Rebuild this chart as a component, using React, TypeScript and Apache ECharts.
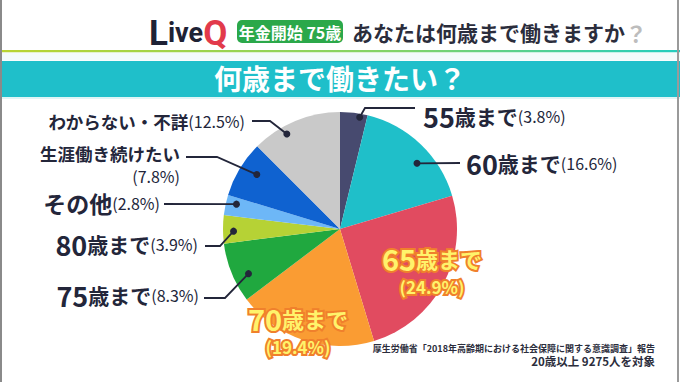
import React, { useEffect, useRef } from "react";
import * as echarts from "echarts";

// ---- data ----
const categories = [
  "55歳まで",
  "60歳まで",
  "65歳まで",
  "70歳まで",
  "75歳まで",
  "80歳まで",
  "その他",
  "生涯働き続けたい",
  "わからない・不詳",
];
const values = [3.8, 16.6, 24.9, 19.4, 8.3, 3.9, 2.8, 7.8, 12.5];
const colors = [
  "#474a6f",
  "#1fbfc9",
  "#e14b60",
  "#fa9c33",
  "#20a83f",
  "#b6d235",
  "#6db7f7",
  "#0f62d0",
  "#c9c9c9",
];
const chartTitle = "何歳まで働きたい？";
const headerTag = "年金開始 75歳";
const headerQuestion = "あなたは何歳まで働きますか";
const sourceLines = [
  "厚生労働省「2018年高齢期における社会保障に関する意識調査」報告",
  "20歳以上 9275人を対象",
];

// ---- layout (positions only) ----
const CX = 340;
const CY = 229;
const R = 117;
const FONT = '"Noto Sans CJK JP", "Noto Sans", sans-serif';
const DARK = "#23263a";
const sourceSizes = [9, 11.5];

type LabelLayout = {
  af?: number; // where the dot sits within the slice's angle span (0..1)
  rf?: number; // dot radius as fraction of R
  path?: number[][];
  x: number;
  ys: number[];
  align: "left" | "right" | "center";
  split?: boolean; // put percentage on its own line
  inside?: boolean;
};
const layouts: LabelLayout[] = [
  { af: 0.73, rf: 0.97, path: [[365, 108], [415, 108]], x: 423, ys: [116], align: "left" },
  { af: 0.6, rf: 0.865, path: [[460, 163]], x: 466, ys: [163], align: "left" },
  { inside: true, x: 432, ys: [258, 286], align: "center", split: true },
  { inside: true, x: 298, ys: [318, 346], align: "center", split: true },
  { af: 0.37, rf: 0.87, path: [[225, 298], [204, 298]], x: 199, ys: [295], align: "right" },
  { af: 0.43, rf: 0.91, path: [[220, 246], [205, 246]], x: 198, ys: [244], align: "right" },
  { af: 0.66, rf: 0.91, path: [[164, 204]], x: 160, ys: [203], align: "right" },
  { af: 0.58, rf: 0.85, path: [[217, 157], [186, 157]], x: 180, ys: [153, 176], align: "right", split: true },
  { af: 0.35, rf: 0.93, path: [[270, 121], [252, 121]], x: 245, ys: [121], align: "right" },
];

function buildLabelParts(name: string, value: number, inside: boolean): string[] {
  const m = name.match(/^(\d+)(.*)$/);
  const pct = `{${inside ? "ip" : "p"}|(${value.toFixed(1)}%)}`;
  let head: string;
  if (m) {
    head = inside ? `{in|${m[1]}}{ij|${m[2]}}` : `{n|${m[1]}}{j|${m[2]}}`;
  } else if (name.length > 4) {
    head = `{s|${name}}`;
  } else {
    head = `{o|${name}}`;
  }
  return [head, pct];
}

const inStroke = "#f0802c";
const rich: any = {
  n: { fontSize: 27, fontWeight: "bold", fill: DARK, fontFamily: FONT },
  j: { fontSize: 21, fontWeight: "bold", fill: DARK, fontFamily: FONT },
  o: { fontSize: 23, fontWeight: "bold", fill: DARK, fontFamily: FONT },
  s: { fontSize: 17.5, fontWeight: "bold", fill: DARK, fontFamily: FONT },
  p: { fontSize: 16, fontWeight: "normal", fill: DARK, fontFamily: FONT },
  in: { fontSize: 29, fontWeight: "bold", fill: "#fff36b", stroke: inStroke, lineWidth: 4, fontFamily: FONT },
  ij: { fontSize: 22, fontWeight: "bold", fill: "#fff36b", stroke: inStroke, lineWidth: 4, fontFamily: FONT },
  ip: { fontSize: 17, fontWeight: "bold", fill: "#fff36b", stroke: inStroke, lineWidth: 4, fontFamily: FONT },
};

export default function App() {
  const ref = useRef<HTMLDivElement>(null);

  useEffect(() => {
    if (!ref.current) return;
    const chart = echarts.init(ref.current, null, { renderer: "svg" });

    const total = values.reduce((a, b) => a + b, 0);
    const starts: number[] = [];
    let acc = 0;
    values.forEach((v) => {
      starts.push(acc);
      acc += v;
    });

    const graphics: any[] = [
      // borders
      { type: "rect", shape: { x: 0, y: 0, width: 2, height: 382 }, style: { fill: "#8a8a8a" }, z: 50 },
      { type: "rect", shape: { x: 677, y: 0, width: 2, height: 382 }, style: { fill: "#9a9a9a" }, z: 50 },
      // gradient rule
      {
        type: "rect",
        shape: { x: 0, y: 50, width: 680, height: 2.5 },
        style: {
          fill: new echarts.graphic.LinearGradient(0, 0, 1, 0, [
            { offset: 0, color: "#b9d431" },
            { offset: 0.6, color: "#7fd36a" },
            { offset: 1, color: "#22cdbf" },
          ]),
        },
      },
      { type: "rect", shape: { x: 0, y: 52.5, width: 680, height: 8 }, style: { fill: "#f3fbfb" } },
      { type: "rect", shape: { x: 0, y: 61, width: 680, height: 36 }, style: { fill: "#1fbfca" } },
      { type: "rect", shape: { x: 0, y: 97, width: 680, height: 2 }, style: { fill: "#dff5f6" } },
      {
        type: "text",
        x: 340,
        y: 78,
        style: {
          text: chartTitle,
          fill: "#ffffff",
          fontSize: 28,
          fontWeight: "bold",
          fontFamily: FONT,
          align: "center",
          verticalAlign: "middle",
        },
      },
      // header logo
      {
        type: "text",
        x: 149,
        y: 33,
        style: {
          text: "{l|L}{i|ive}{q|Q}",
          verticalAlign: "middle",
          align: "left",
          rich: {
            l: { fontSize: 35, fontWeight: "bold", fill: "#1e2235", fontFamily: "Roboto, sans-serif" },
            i: { fontSize: 27, fontWeight: "bold", fill: "#1e2235", fontFamily: "Roboto, sans-serif" },
            q: { fontSize: 35, fontWeight: "bold", fill: "#e23a4b", fontFamily: "Roboto, sans-serif" },
          },
        },
      },
      {
        type: "rect",
        shape: { x: 237, y: 20, width: 106, height: 23, r: 5 },
        style: { fill: "#2ba84a" },
      },
      {
        type: "text",
        x: 290,
        y: 32,
        style: {
          text: headerTag,
          fill: "#ffffff",
          fontSize: 16,
          fontWeight: "bold",
          fontFamily: FONT,
          align: "center",
          verticalAlign: "middle",
        },
      },
      {
        type: "text",
        x: 352,
        y: 32,
        style: {
          text: headerQuestion + "{g|？}",
          fill: "#2b2d3c",
          fontSize: 21,
          fontWeight: "bold",
          fontFamily: FONT,
          align: "left",
          verticalAlign: "middle",
          rich: {
            g: { fontSize: 22, fontWeight: "bold", fill: "#bdbdbd", fontFamily: FONT },
          },
        },
      },
      // source
      ...sourceLines.map((t, k) => ({
        type: "text",
        x: 655,
        y: 348 + k * 13,
        style: {
          text: t,
          fill: "#2b2d3c",
          fontSize: sourceSizes[k],
          fontWeight: "bold",
          fontFamily: FONT,
          align: "right",
          verticalAlign: "middle",
        },
      })),
    ];

    layouts.forEach((lay, i) => {
      const parts = buildLabelParts(categories[i], values[i], !!lay.inside);
      const lines = lay.split ? parts : [parts.join("")];
      lines.forEach((line, k) => {
        graphics.push({
          type: "text",
          x: lay.x,
          y: lay.ys[k],
          z: 20,
          style: { text: line, align: lay.align, verticalAlign: "middle", rich },
        });
      });
      if (!lay.inside && lay.path) {
        const a0 = (starts[i] / total) * Math.PI * 2;
        const a1 = ((starts[i] + values[i]) / total) * Math.PI * 2;
        const a = a0 + (a1 - a0) * (lay.af ?? 0.5);
        const r = R * (lay.rf ?? 0.9);
        const dx = CX + r * Math.sin(a);
        const dy = CY - r * Math.cos(a);
        graphics.push({
          type: "polyline",
          z: 20,
          shape: { points: [[dx, dy], ...lay.path] },
          style: { stroke: DARK, lineWidth: 1.8, fill: "none" },
        });
        graphics.push({
          type: "circle",
          z: 21,
          shape: { cx: dx, cy: dy, r: 3.5 },
          style: { fill: DARK },
        });
      }
    });

    chart.setOption({
      animation: false,
      backgroundColor: "#ffffff",
      graphic: { elements: graphics },
      series: [
        {
          type: "pie",
          center: [CX, CY],
          radius: R,
          startAngle: 90,
          clockwise: true,
          silent: true,
          label: { show: false },
          labelLine: { show: false },
          itemStyle: { borderWidth: 0 },
          data: categories.map((c, i) => ({
            name: c,
            value: values[i],
            itemStyle: { color: colors[i] },
          })),
        },
      ],
    });

    return () => chart.dispose();
  }, []);

  return (
    <div
      ref={ref}
      style={{ position: "fixed", left: 0, top: 0, width: 680, height: 382 }}
    />
  );
}
